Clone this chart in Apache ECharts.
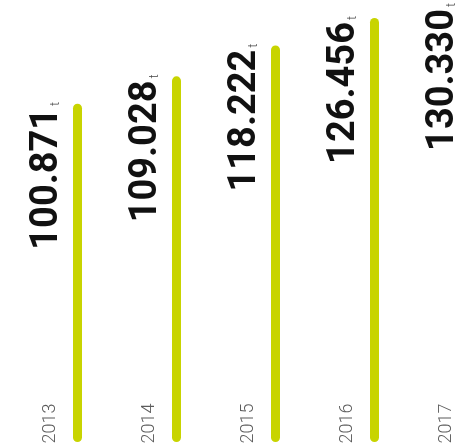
<!DOCTYPE html>
<html>
<head>
<meta charset="utf-8">
<script src="https://cdn.jsdelivr.net/npm/echarts@6/dist/echarts.min.js"></script>
<style>html,body{margin:0;padding:0;background:#fff;overflow:hidden;width:462px;height:444px}#c{width:523px;height:444px}</style>
</head>
<body>
<div id="c"></div>
<script>
const years = ['2013', '2014', '2015', '2016', '2017'];
const tonnes = [100871, 109028, 118222, 126456, 130330];
const unit = 't';

function fmt(v) {
  return String(v).replace(/\B(?=(\d{3})+(?!\d))/g, '.');
}

const chart = echarts.init(document.getElementById('c'), null, { renderer: 'canvas' });
chart.setOption({
  backgroundColor: '#ffffff',
  animation: false,
  grid: { left: 28, top: 0, right: 0, bottom: 2, containLabel: false },
  xAxis: {
    type: 'category', data: years, show: false
  },
  yAxis: { type: 'value', min: 0, max: 131800, show: false },
  series: [
    {
      type: 'bar',
      data: tonnes,
      barWidth: 9,
      itemStyle: { color: '#c8d400', borderRadius: 4.5 },
      label: {
        show: true,
        position: [-26, -2],
        rotate: 90,
        align: 'right',
        verticalAlign: 'middle',
        formatter: p => '{n|' + fmt(p.value) + '}{s| }{t|' + unit + '}',
        rich: {
          n: { fontFamily: 'Roboto', fontWeight: 'bold', fontSize: 38, color: '#111', lineHeight: 38, verticalAlign: 'bottom' },
          s: { fontSize: 7, lineHeight: 38 },
          t: { fontFamily: 'Roboto', fontWeight: 300, fontSize: 13, color: '#444', lineHeight: 38, verticalAlign: 'bottom', padding: [0, 0, 4, 0] }
        }
      }
    },
    {
      type: 'scatter',
      data: years.map(y => [y, 0]),
      symbolSize: 1,
      itemStyle: { color: 'rgba(0,0,0,0)' },
      silent: true,
      label: {
        show: true,
        position: [-27, 2],
        rotate: 90,
        align: 'left',
        verticalAlign: 'middle',
        formatter: p => p.value[0],
        fontFamily: 'Roboto',
        fontWeight: 300,
        fontSize: 18,
        color: '#333'
      }
    }
  ]
});
</script>
</body>
</html>
